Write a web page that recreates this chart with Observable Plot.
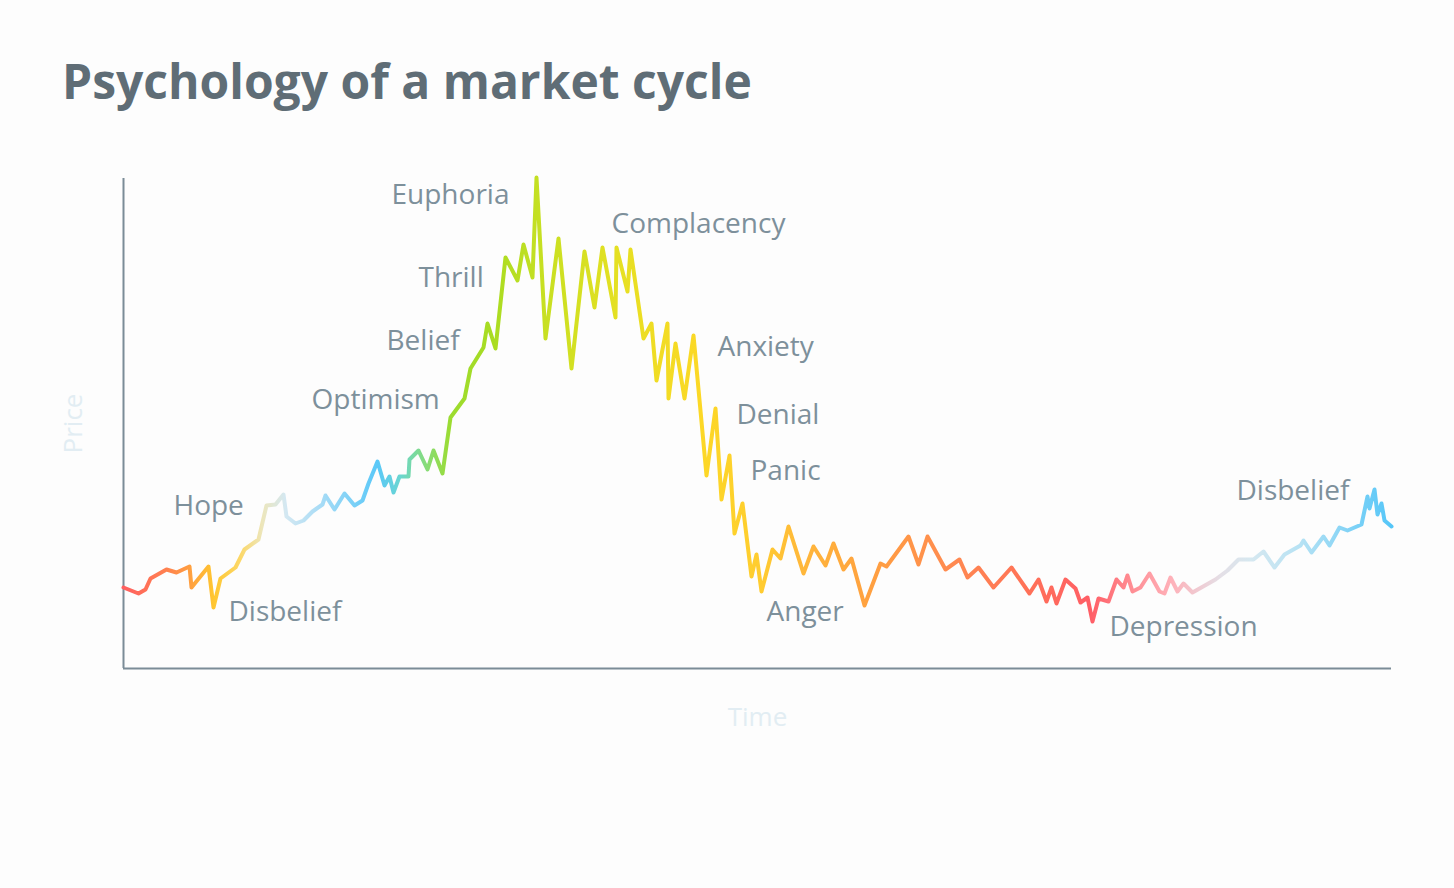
<!DOCTYPE html>
<html>
<head>
<meta charset="utf-8">
<script src="https://cdn.jsdelivr.net/npm/d3@7"></script>
<script src="https://cdn.jsdelivr.net/npm/@observablehq/plot@0.6"></script>
<style>
  html, body { margin: 0; padding: 0; background: #fdfdfd; overflow: hidden; }
  #header { position: relative; height: 140px; }
  #title { position: absolute; left: 62px; top: 57px; margin: 0;
    font-family: "Open Sans", sans-serif; font-weight: 700; font-size: 48px; line-height: 48px;
    color: #5f6d76; white-space: nowrap; }
  #chart svg { display: block; }
</style>
</head>
<body>
<div id="header"><h1 id="title">Psychology of a market cycle</h1></div>
<div id="chart"></div>
<script>
// Time (arbitrary units) and price (arbitrary units)
const time = [0, 15, 22, 27, 43, 53, 66, 68, 85, 90, 97, 112, 121, 135, 143, 152, 160, 163, 172, 180,
  189, 199, 202, 211, 221, 231, 239, 245, 254, 261, 266, 270, 276, 285, 286, 295, 304, 310, 319, 327,
  341, 347, 360, 364, 372, 382, 394, 400, 409, 413, 422, 435, 448, 461, 471, 479, 492, 493, 504, 507,
  520, 528, 533, 544, 545, 552, 561, 570, 583, 592, 598, 606, 611, 619, 628, 633, 638, 649, 657, 665,
  680, 690, 702, 710, 720, 728, 741, 757, 763, 785, 795, 804, 822, 836, 844, 855, 870, 888, 906, 915,
  923, 928, 933, 942, 952, 957, 964, 969, 975, 985, 993, 1000, 1004, 1009, 1017, 1026, 1036, 1041, 1047, 1054,
  1060, 1069, 1092, 1104, 1115, 1130, 1140, 1151, 1161, 1177, 1180, 1188, 1200, 1206, 1216, 1224, 1238, 1244, 1246, 1251,
  1254, 1258, 1261, 1268];
const price = [81, 75, 79, 90, 99, 96, 102, 81, 102, 61, 90, 101, 119, 129, 163, 164, 174, 152, 145, 148,
  157, 164, 173, 159, 175, 163, 168, 185, 207, 183, 192, 176, 192, 192, 209, 218, 199, 218, 195, 251,
  270, 300, 321, 345, 320, 411, 388, 424, 391, 491, 330, 430, 300, 417, 361, 421, 351, 421, 377, 419,
  330, 345, 288, 345, 270, 325, 270, 333, 193, 260, 169, 213, 135, 165, 92, 114, 77, 119, 110, 142,
  95, 122, 103, 125, 99, 110, 63, 105, 102, 132, 104, 132, 99, 109, 91, 101, 81, 101, 75, 89,
  67, 81, 65, 89, 80, 66, 71, 47, 70, 67, 89, 81, 93, 77, 81, 95, 77, 75, 91, 77,
  85, 76, 89, 98, 109, 109, 117, 101, 114, 123, 128, 116, 132, 123, 141, 138, 144, 172, 160, 179,
  154, 165, 148, 142];

// Phase labels
const labelNames = ["Euphoria", "Complacency", "Thrill", "Belief", "Optimism", "Anxiety", "Denial",
  "Panic", "Hope", "Disbelief", "Anger", "Depression", "Disbelief"];
const labelTime = [268, 488, 295, 263, 188, 594, 613, 627, 50, 105, 643, 986, 1113];
const labelPrice = [473, 444, 390, 327, 268, 321, 253, 197, 162, 56, 56, 41, 177];

// Colour gradient along time
const gradientTime = [0, 42, 67, 90, 117, 139, 162, 197, 254, 277, 302, 327, 367, 417, 497, 577, 637, 677, 747, 827, 907, 967, 1007, 1047, 1097, 1127, 1177, 1268];
const gradientColors = ["#ff6060", "#ff8050", "#ffa040", "#ffc630", "#fcd868", "#ece6bc", "#d4e8f2", "#a8dcf6", "#5ac8f8", "#6ad6d0", "#86dc7a", "#9cdc30", "#a8dc22", "#c6e022", "#e6e022", "#fcd826", "#ffcc30", "#ffb83a", "#ffa040", "#ff8a50", "#ff7058", "#ff5e66", "#ff8c92", "#ffb0b8", "#e4dfe6", "#d6e8f0", "#b6e2f4", "#55c6f8"];

const points = time.map((t, i) => ({time: t, price: price[i]}));
const labels = labelNames.map((name, i) => ({name, time: labelTime[i], price: labelPrice[i]}));

function gradientDefs(index, scales) {
  const ns = "http://www.w3.org/2000/svg";
  const defs = document.createElementNS(ns, "defs");
  const lg = document.createElementNS(ns, "linearGradient");
  lg.setAttribute("id", "cycle-gradient");
  lg.setAttribute("gradientUnits", "userSpaceOnUse");
  lg.setAttribute("x1", scales.x(0));
  lg.setAttribute("x2", scales.x(1268));
  lg.setAttribute("y1", 0);
  lg.setAttribute("y2", 0);
  gradientTime.forEach((t, i) => {
    const s = document.createElementNS(ns, "stop");
    s.setAttribute("offset", t / 1268);
    s.setAttribute("stop-color", gradientColors[i]);
    lg.appendChild(s);
  });
  defs.appendChild(lg);
  return defs;
}

const chart = Plot.plot({
  width: 1454,
  height: 748,
  marginLeft: 123,
  marginRight: 63,
  marginTop: 38,
  marginBottom: 220,
  x: {domain: [0, 1268], axis: null},
  y: {domain: [0, 490], axis: null},
  style: {background: "transparent", fontFamily: "'Open Sans', sans-serif", overflow: "visible"},
  marks: [
    gradientDefs,
    Plot.ruleX([0], {stroke: "#7b8c97", strokeWidth: 2}),
    Plot.ruleY([0], {stroke: "#7b8c97", strokeWidth: 2}),
    Plot.line(points, {x: "time", y: "price", stroke: "url(#cycle-gradient)", strokeWidth: 4,
      strokeLinejoin: "round", strokeLinecap: "round"}),
    Plot.text(labels, {x: "time", y: "price", text: "name", textAnchor: "start", lineAnchor: "middle",
      fontSize: 28, fill: "#7d909b"}),
    Plot.text(["Time"], {frameAnchor: "bottom", dy: 49, text: d => d, fontSize: 26, fill: "#e2edf3",
      textAnchor: "middle", lineAnchor: "middle"}),
    Plot.text(["Price"], {frameAnchor: "left", dx: -50, text: d => d, fontSize: 26, fill: "#e2edf3",
      rotate: -90, textAnchor: "middle", lineAnchor: "middle"})
  ]
});
document.getElementById("chart").appendChild(chart);
</script>
</body>
</html>
